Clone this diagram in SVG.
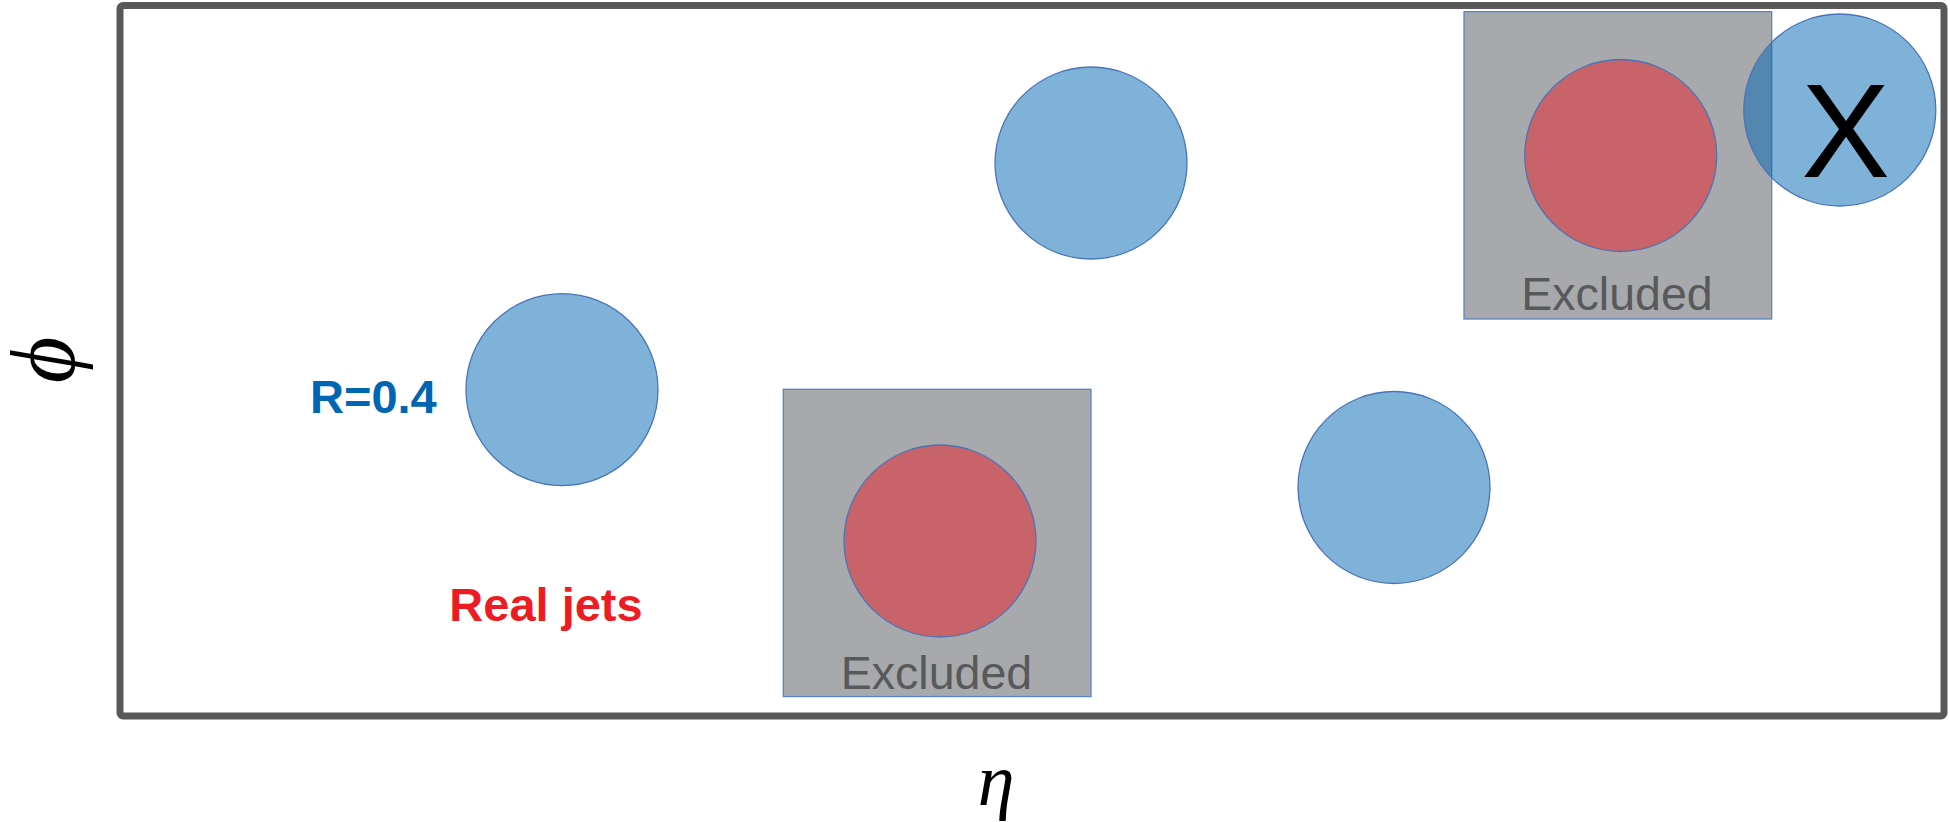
<svg xmlns="http://www.w3.org/2000/svg" width="1950" height="822" viewBox="0 0 1950 822">
  <style>
    .frame { fill: #ffffff; stroke: #58595b; stroke-width: 7; }
    .excl { fill: #a7a9ac; stroke: #5b84c4; stroke-width: 1.3; }
    .jet { fill: #0066b3; fill-opacity: 0.5; stroke: #4a74b8; stroke-width: 1.3; }
    .real { fill: #c9636a; stroke: #4a74b8; stroke-width: 1.3; }
    .exlabel { font-family: "Liberation Sans", Arial, sans-serif; font-size: 46.5px; fill: #58595b; text-anchor: middle; }
    .bold { font-family: "Liberation Sans", Arial, sans-serif; font-weight: bold; font-size: 47px; }
    .axis { font-family: "Liberation Serif", "DejaVu Serif", serif; font-style: italic; fill: #000000; text-anchor: middle; }
  </style>
  <rect width="1950" height="822" fill="#ffffff"/>
  <g id="frame">
    <rect class="frame" x="120" y="5.5" width="1824" height="710.5" rx="3"/>
  </g>
  <g id="excluded-bottom">
    <rect class="excl" x="783.3" y="389.3" width="307.7" height="307.3"/>
    <circle class="real" cx="940" cy="541" r="96"/>
    <text class="exlabel" x="936.5" y="689.3">Excluded</text>
  </g>
  <g id="excluded-top">
    <rect class="excl" x="1464" y="11.7" width="307.7" height="307.3"/>
    <circle class="real" cx="1620.7" cy="155.5" r="96"/>
    <text class="exlabel" x="1617" y="310">Excluded</text>
  </g>
  <g id="jet-left">
    <circle class="jet" cx="562" cy="389.7" r="96"/>
  </g>
  <g id="jet-top">
    <circle class="jet" cx="1091" cy="163" r="96"/>
  </g>
  <g id="jet-right">
    <circle class="jet" cx="1394" cy="487.5" r="96"/>
  </g>
  <g id="jet-x">
    <circle class="jet" cx="1839.8" cy="110" r="96"/>
    <text x="1845.5" y="176.7" font-family="'Liberation Sans', Arial, sans-serif" font-size="133" fill="#000000" text-anchor="middle">X</text>
  </g>
  <g id="labels">
    <text class="bold" x="310" y="413.3" fill="#0066b3">R=0.4</text>
    <text class="bold" x="449.3" y="620.7" fill="#ed1c24">Real jets</text>
    <text class="axis" font-size="90" transform="translate(73.5,360) rotate(-90)" x="0" y="0">ϕ</text>
    <text class="axis" font-size="74" x="996" y="805">η</text>
  </g>
  <g id="connectors"/>
</svg>
